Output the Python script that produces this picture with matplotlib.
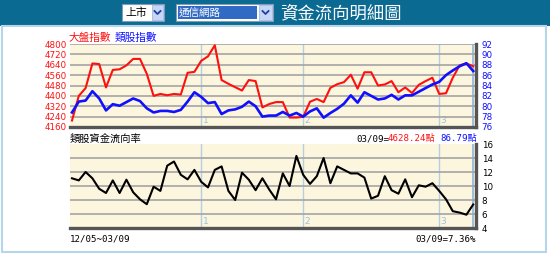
import numpy as np
import matplotlib
matplotlib.use('Agg')
import matplotlib.pyplot as plt
from matplotlib.patches import Rectangle
from matplotlib.lines import Line2D

# ---------------- data ----------------
market_index = [4210, 4400, 4460, 4650, 4645, 4465, 4600, 4605, 4635, 4685,
                4685, 4570, 4400, 4415, 4405, 4415, 4410, 4578, 4585, 4670,
                4705, 4790, 4522, 4493, 4467, 4441, 4522, 4514, 4311, 4337,
                4352, 4352, 4233, 4233, 4238, 4355, 4376, 4352, 4462, 4490,
                4506, 4563, 4455, 4582, 4582, 4480, 4488, 4514, 4428, 4465,
                4422, 4485, 4514, 4540, 4415, 4420, 4540, 4636, 4650, 4628.24]
sector_index = [78.8, 80.9, 81.1, 82.9, 81.5, 79.2, 80.4, 80.1, 80.8, 81.5,
                81.0, 79.6, 78.8, 79.1, 79.1, 78.9, 79.3, 80.9, 82.7, 81.8,
                80.6, 80.8, 78.5, 79.2, 79.4, 79.9, 80.9, 80.0, 78.0, 78.2,
                78.2, 78.9, 78.2, 78.7, 78.0, 79.0, 79.6, 77.8, 78.7, 79.5,
                80.5, 82.1, 80.7, 82.7, 82.0, 81.3, 81.5, 82.2, 81.3, 82.1,
                82.1, 82.8, 83.5, 84.2, 84.7, 86.0, 86.9, 87.7, 88.3, 86.79]
flow_rate = [11.1, 10.8, 12.0, 11.1, 9.6, 9.0, 10.8, 9.0, 10.9, 9.1,
             8.1, 7.4, 9.9, 9.3, 12.9, 13.5, 11.6, 10.95, 12.3, 10.6,
             9.8, 12.3, 12.8, 9.3, 8.0, 11.9, 10.9, 9.4, 11.1, 9.5,
             8.1, 11.8, 10.0, 14.3, 11.6, 10.3, 11.4, 14.0, 10.4, 12.8,
             12.3, 11.8, 11.8, 11.2, 8.2, 8.6, 11.4, 9.4, 8.9, 10.95,
             8.4, 10.1, 9.9, 10.4, 9.3, 8.1, 6.4, 6.2, 5.9, 7.36]
month_start_idx = [19, 34, 54]
month_labels = ['1', '2', '3']
left_ticks = [4160, 4240, 4320, 4400, 4480, 4560, 4640, 4720, 4800]
right_ticks = [76, 78, 80, 82, 84, 86, 88, 90, 92]
flow_ticks = [4, 6, 8, 10, 12, 14, 16]
date_range = '12/05~03/09'
last_date = '03/09'
market_name = '上市'
sector_name = '通信網路'
title = '資金流向明細圖'

# ---------------- style ----------------
W, H = 550, 254
CJK = ['Noto Sans CJK TC', 'DejaVu Sans']
MONO = ['DejaVu Sans Mono', 'Noto Sans CJK TC']
HEADER = '#0b6a92'
CREAM = '#fdf6df'
GRID = '#a4a4a4'
MONTH = '#b4cfe2'
SHADOW = '#555555'
RED = '#ff1010'
BLUE = '#1010ff'

fig = plt.figure(figsize=(5.5, 2.54), dpi=100)
fig.patch.set_facecolor('white')


def fx(px):
    return px / W


def fy(py):
    return 1 - py / H


def rect(x0, y0, x1, y1, **kw):
    fig.add_artist(Rectangle((fx(x0), fy(y1)), fx(x1) - fx(x0), (y1 - y0) / H,
                             transform=fig.transFigure, **kw))


def chevron(cx, cy):
    fig.add_artist(Line2D([fx(cx - 3), fx(cx), fx(cx + 3)],
                          [fy(cy - 1.5), fy(cy + 1.5), fy(cy - 1.5)],
                          transform=fig.transFigure, color='#2040a0', lw=1.3))


# header bar
rect(0, 0, 550, 26, facecolor=HEADER, edgecolor='none')
# content frame
rect(2, 26, 546, 252, facecolor='none', edgecolor='#b5d5ea', lw=1.5)

# select box 1
rect(122, 4, 164, 21, facecolor='white', edgecolor='#7f9db9', lw=0.8)
rect(152, 5, 163, 20, facecolor='#c6d6f6', edgecolor='#a4b8e4', lw=0.6)
chevron(157.5, 12.5)
fig.text(fx(125), fy(12.5), market_name, family=CJK, fontsize=7.8,
         color='black', va='center', ha='left')
# select box 2
rect(176, 4, 273, 21, facecolor='white', edgecolor='#7f9db9', lw=0.8)
rect(178, 6, 257, 19, facecolor='#316ac5', edgecolor='none')
rect(259, 5, 272, 20, facecolor='#c6d6f6', edgecolor='#a4b8e4', lw=0.6)
chevron(265.5, 12.5)
fig.text(fx(179), fy(12.5), sector_name, family=CJK, fontsize=7.6,
         color='white', va='center', ha='left')
# title
fig.text(fx(280), fy(13.5), title, family=CJK, fontsize=12.5,
         color='white', va='center', ha='left')

x = np.arange(len(market_index))
px_per = 6.8
xlim = (-2 / px_per, (476 - 72) / px_per)


def style_axes(ax):
    ax.set_facecolor(CREAM)
    ax.set_xlim(*xlim)
    ax.set_xticks([])
    for s in ['top', 'left']:
        ax.spines[s].set_visible(False)
    for s in ['bottom', 'right']:
        ax.spines[s].set_color(SHADOW)
        ax.spines[s].set_linewidth(2.4)
    for i, lab in zip(month_start_idx, month_labels):
        ax.axvline(i, color=MONTH, lw=1.0, zorder=1)
        ax.text(i + 0.2, 0.02, lab, transform=ax.get_xaxis_transform(),
                fontsize=6.5, color='#9fc0d8', ha='left', va='bottom', zorder=1)
    ax.axvline(x[-1], color='#8fb6dd', lw=1.2, zorder=1)


# ---------------- top chart ----------------
ax1 = fig.add_axes([fx(70), fy(127), (476 - 70) / W, (127 - 44) / H])
style_axes(ax1)
ax1.set_ylim(left_ticks[0], left_ticks[-1])
ax1.set_yticks(left_ticks)
for v in left_ticks[1:]:
    ax1.axhline(v, color=GRID, lw=1.2, zorder=1)
ax1.tick_params(axis='y', length=0, pad=2, labelsize=6.3, labelcolor=RED)
ax1.plot(x, market_index, color=RED, lw=1.5, zorder=3)

ax1b = ax1.twinx()
ax1b.set_ylim(right_ticks[0], right_ticks[-1])
ax1b.set_yticks(right_ticks)
ax1b.tick_params(axis='y', length=0, pad=4, labelsize=6.3, labelcolor=BLUE)
for s in ['top', 'left', 'bottom', 'right']:
    ax1b.spines[s].set_visible(False)
ax1b.plot(x, sector_index, color=BLUE, lw=1.9, zorder=3)

fig.text(fx(69), fy(38), '大盤指數', family=CJK, fontsize=7.7, color=RED,
         va='center', ha='left')
fig.text(fx(115), fy(38), '類股指數', family=CJK, fontsize=7.7, color=BLUE,
         va='center', ha='left')

# ---------------- bottom chart ----------------
ax2 = fig.add_axes([fx(70), fy(228), (476 - 70) / W, (228 - 144) / H])
style_axes(ax2)
ax2.set_ylim(flow_ticks[0], flow_ticks[-1])
ax2.yaxis.tick_right()
ax2.set_yticks(flow_ticks)
for v in flow_ticks[1:-1]:
    ax2.axhline(v, color=GRID, lw=1.2, zorder=1)
ax2.tick_params(axis='y', length=0, pad=4, labelsize=6.3, labelcolor='black')
ax2.plot(x, flow_rate, color='black', lw=1.5, zorder=3)

fig.text(fx(70), fy(139), '類股資金流向率', family=CJK, fontsize=7.4,
         color='black', va='center', ha='left')

fs_m = 6.6
fig.text(fx(356), fy(139), f'{last_date}=', family=MONO, fontsize=fs_m,
         color='black', va='center', ha='left')
fig.text(fx(388), fy(139), f'{market_index[-1]:.2f}點', family=MONO,
         fontsize=fs_m, color=RED, va='center', ha='left')
fig.text(fx(440), fy(139), f'{sector_index[-1]:.2f}點', family=MONO,
         fontsize=fs_m, color=BLUE, va='center', ha='left')

fig.text(fx(70), fy(238.5), date_range, family=MONO, fontsize=fs_m,
         color='black', va='center', ha='left')
fig.text(fx(476), fy(238.5), f'{last_date}={flow_rate[-1]:.2f}%', family=MONO,
         fontsize=fs_m, color='black', va='center', ha='right')

fig.savefig('out.png', dpi=100, facecolor='white')
